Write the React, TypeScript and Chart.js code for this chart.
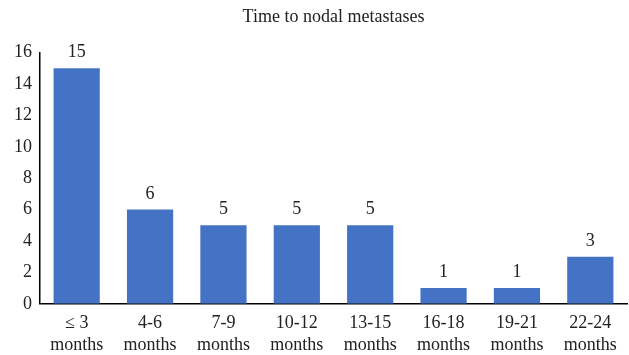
import React, { useEffect, useRef } from "react";
import { Chart, registerables } from "chart.js";

Chart.register(...registerables);

const categories: string[][] = [
  ["≤ 3", "months"],
  ["4-6", "months"],
  ["7-9", "months"],
  ["10-12", "months"],
  ["13-15", "months"],
  ["16-18", "months"],
  ["19-21", "months"],
  ["22-24", "months"],
];
const counts: number[] = [15, 6, 5, 5, 5, 1, 1, 3];
const titleText = "Time to nodal metastases";

const FONT = "'Liberation Serif', 'Times New Roman', serif";

// Writes each bar's value just above it
const valueLabels = {
  id: "valueLabels",
  afterDatasetsDraw(chart: any) {
    const ctx = chart.ctx;
    const meta = chart.getDatasetMeta(0);
    ctx.save();
    ctx.font = `18px ${FONT}`;
    ctx.fillStyle = "#222";
    ctx.textAlign = "center";
    ctx.textBaseline = "alphabetic";
    meta.data.forEach((bar: any, i: number) => {
      ctx.fillText(String(counts[i]), bar.x, bar.y - 11);
    });
    ctx.restore();
  },
};

export default function App() {
  const ref = useRef<HTMLCanvasElement>(null);
  useEffect(() => {
    if (!ref.current) return;
    const chart = new Chart(ref.current, {
      type: "bar",
      data: {
        labels: categories,
        datasets: [
          {
            data: counts,
            backgroundColor: "#4472C4",
            barPercentage: 0.63,
            categoryPercentage: 1,
          },
        ],
      },
      options: {
        responsive: false,
        animation: false,
        layout: { padding: { left: 6, right: 2, top: 4, bottom: -10 } },
        plugins: {
          legend: { display: false },
          tooltip: { enabled: false },
          title: {
            display: true,
            text: titleText,
            fullSize: false,
            color: "#222",
            font: { family: FONT, size: 18, weight: "normal" },
            padding: { top: 2, bottom: 25 },
          },
        },
        scales: {
          x: {
            grid: { display: false, drawTicks: false },
            border: { display: true, color: "#000", width: 1.5 },
            ticks: {
              color: "#222",
              font: { family: FONT, size: 18 },
              padding: 9,
              maxRotation: 0,
              autoSkip: false,
            },
          },
          y: {
            min: 0,
            max: 16,
            grid: { display: false, drawTicks: false },
            border: { display: true, color: "#000", width: 1.5 },
            ticks: {
              stepSize: 2,
              color: "#222",
              font: { family: FONT, size: 18 },
              padding: 8,
            },
          },
        },
      },
      plugins: [valueLabels],
    });
    return () => chart.destroy();
  }, []);
  return (
    <div style={{ position: "absolute", left: 0, top: 0, width: 629, height: 355, background: "#fff" }}>
      <canvas ref={ref} width={629} height={355} style={{ display: "block" }} />
    </div>
  );
}
